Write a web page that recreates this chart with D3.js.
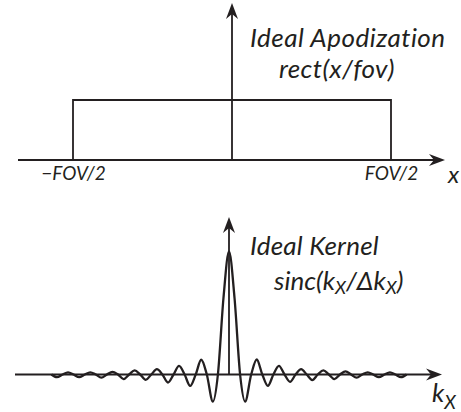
<!DOCTYPE html>
<html>
<head>
<meta charset="utf-8">
<script src="https://cdn.jsdelivr.net/npm/d3@7"></script>
<style>
  body { margin: 0; background: #fff; }
  svg { display: block; }
  text { font-family: Lato, "Noto Sans", sans-serif; font-style: italic; fill: #231f20; }
</style>
</head>
<body>
<script>
// top panel: ideal apodization, rect(x/fov)
const rectX = [-1, -1, 1, 1];
const rectY = [0, 1, 1, 0];
const fovTicks = [-1, 1];
const fovLabels = ['\u2212FOV/2', 'FOV/2'];

// bottom panel: ideal kernel (zeros + lobe extrema)
const kernelX = [-16, -15.5, -15, -14.5, -14, -13.5, -13, -12.5, -12, -11.5, -11, -10.5, -10,
  -9.5, -9, -8.5, -8, -7.5, -7, -6.5, -6, -5.5, -5, -4.5, -4, -3.5, -3, -2.5, -2, -1.45, -1, -0.5,
  0, 0.5, 1, 1.45, 2, 2.5, 3, 3.5, 4, 4.5, 5, 5.5, 6, 6.5, 7, 7.5, 8, 8.5, 9, 9.5, 10,
  10.5, 11, 11.5, 12, 12.5, 13, 13.5, 14, 14.5, 15, 15.5, 16];
const kernelY = [0, -0.022, 0, 0.018, 0, -0.022, 0, 0.018, 0, -0.026, 0, 0.022, 0,
  -0.037, 0, 0.033, 0, -0.043, 0, 0.043, 0, -0.065, 0, 0.07, 0, -0.093, 0, 0.12, 0, -0.22, 0, 0.62,
  1, 0.62, 0, -0.22, 0, 0.122, 0, -0.093, 0, 0.07, 0, -0.06, 0, 0.043, 0, -0.045, 0, 0.033, 0, -0.037, 0,
  0.026, 0, -0.026, 0, 0.018, 0, -0.022, 0, 0.018, 0, -0.022, 0];

const width = 461, height = 412;
const ink = '#231f20';

const svg = d3.select('body').append('svg')
  .attr('width', width)
  .attr('height', height);

// notched arrow head, tip at (x, y), pointing along angle (deg)
function arrow(x, y, angle) {
  svg.append('path')
    .attr('d', 'M0,0 L-16,-6 L-11,0 L-16,6 Z')
    .attr('transform', `translate(${x},${y}) rotate(${angle})`)
    .attr('fill', ink);
}

// ---------- top ----------
const xTop = d3.scaleLinear().domain([-1, 1]).range([73, 391]);
const yTop = d3.scaleLinear().domain([0, 1]).range([160, 100]);

svg.append('line')
  .attr('x1', 18).attr('x2', 441)
  .attr('y1', yTop(0)).attr('y2', yTop(0))
  .attr('stroke', ink).attr('stroke-width', 1.8);
arrow(445, yTop(0), 0);

svg.append('line')
  .attr('x1', xTop(0)).attr('x2', xTop(0))
  .attr('y1', yTop(0)).attr('y2', 7)
  .attr('stroke', ink).attr('stroke-width', 1.8);
arrow(xTop(0), 3, -90);

svg.append('path')
  .datum(d3.zip(rectX, rectY))
  .attr('d', d3.line().x(d => xTop(d[0])).y(d => yTop(d[1])))
  .attr('fill', 'none')
  .attr('stroke', ink)
  .attr('stroke-width', 1.8);

const topAxis = svg.append('g')
  .attr('transform', `translate(0,${yTop(0)})`)
  .call(d3.axisBottom(xTop)
    .tickValues(fovTicks)
    .tickFormat((d, i) => fovLabels[i])
    .tickSize(0)
    .tickPadding(7));
topAxis.select('.domain').remove();
topAxis.selectAll('text')
  .attr('font-family', 'Lato, "Noto Sans", sans-serif')
  .attr('font-style', 'italic')
  .attr('font-size', 19)
  .attr('fill', ink);

svg.append('text').attr('x', 448).attr('y', 183)
  .attr('font-size', 24).text('x');
svg.append('text').attr('x', 250).attr('y', 47)
  .attr('font-size', 26).attr('letter-spacing', 0.5).text('Ideal Apodization');
svg.append('text').attr('x', 279).attr('y', 78)
  .attr('font-size', 26).attr('letter-spacing', 0.4).text('rect(x/fov)');

// ---------- bottom ----------
const xBot = d3.scaleLinear().domain([-16, 16]).range([51.4, 406.6]);
const yBot = d3.scaleLinear().domain([0, 1]).range([374.5, 251.5]);

svg.append('line')
  .attr('x1', 15).attr('x2', 438)
  .attr('y1', yBot(0)).attr('y2', yBot(0))
  .attr('stroke', ink).attr('stroke-width', 1.8);
arrow(442, yBot(0), 0);

svg.append('line')
  .attr('x1', xBot(0)).attr('x2', xBot(0))
  .attr('y1', yBot(0)).attr('y2', 221)
  .attr('stroke', ink).attr('stroke-width', 1.8);
arrow(xBot(0), 217, -90);

svg.append('path')
  .datum(d3.zip(kernelX, kernelY))
  .attr('d', d3.line()
    .x(d => xBot(d[0]))
    .y(d => yBot(d[1]))
    .curve(d3.curveMonotoneX))
  .attr('fill', 'none')
  .attr('stroke', ink)
  .attr('stroke-width', 2.3);

svg.append('text').attr('x', 250).attr('y', 255)
  .attr('font-size', 26).attr('letter-spacing', 0.2).text('Ideal Kernel');

const sinc = svg.append('text').attr('x', 274).attr('y', 290).attr('font-size', 26);
sinc.append('tspan').text('sinc(k');
sinc.append('tspan').attr('font-size', 18).attr('dy', 4).text('X');
sinc.append('tspan').attr('dy', -4).text('/\u0394k');
sinc.append('tspan').attr('font-size', 18).attr('dy', 4).text('X');
sinc.append('tspan').attr('dy', -4).text(')');

const kx = svg.append('text').attr('x', 432).attr('y', 402).attr('font-size', 26);
kx.append('tspan').text('k');
kx.append('tspan').attr('font-size', 19).attr('dy', 7).text('X');
</script>
</body>
</html>
